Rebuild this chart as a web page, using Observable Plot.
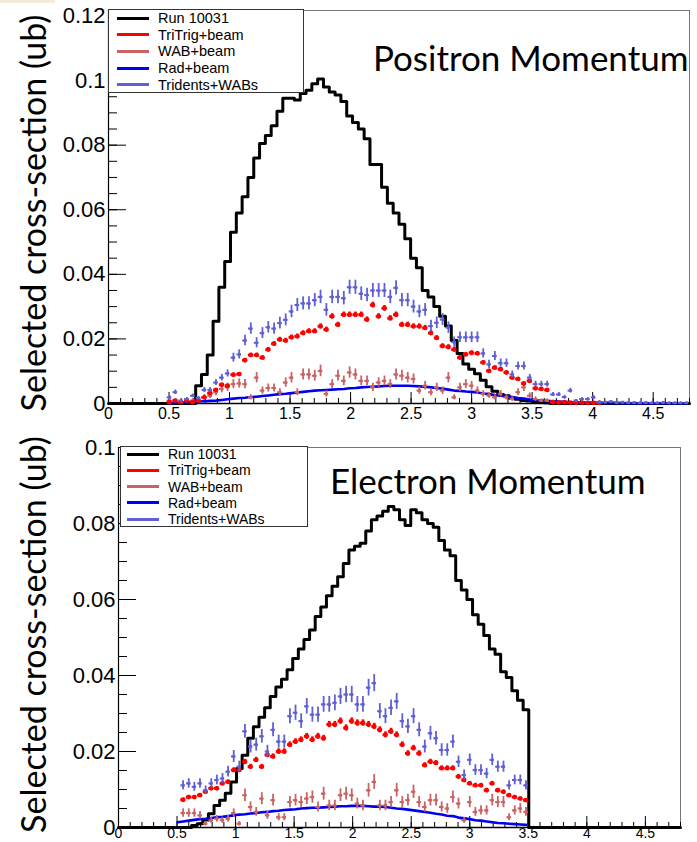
<!DOCTYPE html>
<html>
<head>
<meta charset="utf-8">
<script src="https://cdn.jsdelivr.net/npm/d3@7"></script>
<script src="https://cdn.jsdelivr.net/npm/@observablehq/plot@0.6"></script>
<style>
  html, body { margin: 0; padding: 0; background: #fff; }
  body { position: relative; width: 697px; height: 842px; overflow: hidden; font-family: "Liberation Sans", Arial, sans-serif; }
  .panel { position: absolute; left: 0; width: 697px; }
  .panel svg { overflow: visible; }
  .legend { position: absolute; background: #fff; border: 1px solid #333; box-sizing: border-box; color: #000; }
  .legend .row { position: absolute; display: flex; align-items: center; white-space: nowrap; height: 16px; margin-top: -8px; }
  .legend .sw { height: 3px; }
  #corner { position: absolute; left: 0; top: 0; width: 55px; height: 3px; background: #f3eadb; }
</style>
</head>
<body>
<div id="corner"></div>
<div id="top" class="panel" style="top:0px"></div>
<div id="bottom" class="panel" style="top:420px"></div>
<script>
// ---------------- data ----------------
const BIN_WIDTH = 0.048;          // 100 bins from 0 to 4.8
const X_MAX = 4.8;
const legendLabels = ["Run 10031", "TriTrig+beam", "WAB+beam", "Rad+beam", "Tridents+WABs"];
const panelTitles = ["Positron Momentum", "Electron Momentum"];
const yAxisTitle = "Selected cross-section (ub)";
const xTickValues = [0, 0.5, 1, 1.5, 2, 2.5, 3, 3.5, 4, 4.5];
const yTickValuesPos = [0, 0.02, 0.04, 0.06, 0.08, 0.1, 0.12];
const yTickValuesEle = [0, 0.02, 0.04, 0.06, 0.08, 0.1];

// Positron panel (values per bin, starting at the given bin index)
const posRunFirstBin = 15;
const posRun = [0.0055,0.009,0.015,0.0255,0.036,0.044,0.053,0.059,0.064,0.070,
  0.076,0.0805,0.083,0.086,0.0905,0.0945,0.0945,0.094,0.096,0.097,
  0.099,0.1005,0.098,0.0965,0.0955,0.0935,0.089,0.087,0.085,0.082,
  0.074,0.074,0.067,0.062,0.059,0.0555,0.051,0.045,0.042,0.035,
  0.033,0.030,0.027,0.024,0.0195,0.0155,0.0122,0.0106,0.0092,0.0072,
  0.0052,0.0038,0.0028,0.0024,0.0016,0.0013,0.0009,0.0008,0.0005,0.0004,
  0.0002];
const posTriFirstBin = 10;
const posTri = [0.0004,0.0009,0.0004,0.0009,0.0004,0.0009,0.0019,0.0032,0.0042,0.0058,
  0.0055,0.0089,0.0091,0.0134,0.015,0.015,0.0142,0.0167,0.0185,0.0198,
  0.0195,0.0205,0.0208,0.0218,0.0224,0.0224,0.0239,0.0229,0.027,0.0244,
  0.0275,0.0275,0.0275,0.0275,0.026,0.0305,0.027,0.0295,0.0264,0.0275,
  0.0244,0.0244,0.0239,0.0239,0.0234,0.0218,0.0203,0.0178,0.0175,0.0167,
  0.0142,0.0152,0.0157,0.0155,0.0127,0.0101,0.0111,0.0106,0.0096,0.008,
  0.0076,0.0062,0.007,0.0047,0.0045,0.0042,0.0004,0.0003,0.0004,0.0003,
  0.0002,0.0003,0.0002,0.0002,0.0002];
const posWabFirstBin = 10;
const posWab = [0.0009,0.0009,0.0004,0.0009,0.0009,0.0009,0.002,0.0024,0.0035,0.0045,
  0.005,0.006,0.0062,0.006,0.0019,0.008,0.004,0.0048,0.0048,0.0035,
  0.0065,0.008,0.0035,0.009,0.009,0.0086,0.0101,0.003,0.006,0.0086,
  0.007,0.0096,0.009,0.007,0.007,0.005,0.0065,0.007,0.006,0.009,
  0.0086,0.008,0.0076,0.004,0.0055,0.0035,0.005,0.004,0.008,0.0019,
  0.005,0.006,0.0055,0.004,0.003,0.0025,0.0019,0.003,0.0019,0.0014,
  0.0035,0.005,0.0024,0.0014,0.0009,0.0009,0.0006,0.0004,0.0005,0.0003,
  0.0004,0.0003,0.0002,0.0003,0.0002];
const posRadFirstBin = 10;
const posRad = [0.0001,0.0002,0.0003,0.0004,0.0005,0.0006,0.0007,0.0008,0.0009,0.0011,
  0.0013,0.0015,0.0017,0.0018,0.002,0.0021,0.0023,0.0025,0.0027,0.0029,
  0.003,0.0032,0.0034,0.0036,0.0038,0.004,0.0041,0.0042,0.0043,0.0044,
  0.0045,0.0047,0.0048,0.005,0.0051,0.0052,0.0053,0.0054,0.0055,0.0055,
  0.0055,0.0055,0.0054,0.0053,0.0052,0.005,0.0048,0.0046,0.0043,0.004,
  0.0039,0.0037,0.0036,0.0034,0.0031,0.0029,0.0026,0.0024,0.0022,0.002,
  0.0017,0.0015,0.0012,0.001,0.0009,0.0008,0.0007,0.0006,0.0005,0.0004,
  0.0004,0.0003,0.0003,0.0003,0.0002,0.0002,0.0002,0.0002,0.0001,0.0001,
  0.0001,0.0001,0.0001,0.0001,0.0001,0.0001,0.0001,0.0001,0.0001,0.0001];
const posTwFirstBin = 10;
const posTw = [0.0019,0.0035,0.0009,0.0014,0.0024,0.0017,0.0042,0.0042,0.0065,0.008,
  0.0093,0.0142,0.0152,0.0195,0.0232,0.0188,0.0218,0.0236,0.0232,0.0249,
  0.0259,0.0285,0.0305,0.031,0.031,0.032,0.033,0.029,0.033,0.033,
  0.0326,0.036,0.036,0.034,0.0336,0.035,0.035,0.035,0.033,0.0358,
  0.032,0.032,0.030,0.0285,0.029,0.024,0.025,0.026,0.0235,0.019,
  0.0205,0.0205,0.0205,0.0205,0.0155,0.0121,0.0147,0.0125,0.0125,0.009,
  0.0116,0.0116,0.008,0.006,0.006,0.006,0.0028,0.0028,0.002,0.004,
  0.0009,0.0014,0.0014,0.0019,0.0005,0.0004,0.0006,0.0003,0.0004,0.0003,
  0.0003,0.0002,0.0003,0.0002,0.0002,0.0003,0.0002,0.0002,0.0002,0.0002];

// Electron panel
const eleRunFirstBin = 13;
const eleRun = [0.0005,0.001,0.002,0.0036,0.0058,0.0072,0.009,0.012,0.0155,0.019,
  0.0235,0.0265,0.029,0.0315,0.0345,0.037,0.039,0.0415,0.0445,0.047,
  0.0495,0.052,0.0555,0.058,0.061,0.0635,0.066,0.0695,0.073,0.074,
  0.0748,0.078,0.081,0.082,0.0832,0.0845,0.0836,0.081,0.0795,0.0836,
  0.0828,0.081,0.080,0.079,0.0755,0.073,0.0715,0.065,0.0625,0.060,
  0.056,0.0535,0.0505,0.047,0.0456,0.041,0.0395,0.036,0.0335,0.031];
const eleTriFirstBin = 11;
const eleTri = [0.0073,0.008,0.008,0.0085,0.0094,0.0103,0.0103,0.0116,0.012,0.0151,
  0.0151,0.0173,0.016,0.0178,0.016,0.0191,0.0187,0.020,0.020,0.0218,
  0.0226,0.0231,0.024,0.0231,0.024,0.0235,0.0271,0.0271,0.028,0.0262,
  0.028,0.0275,0.0275,0.0271,0.0266,0.0257,0.0244,0.0253,0.0244,0.0218,
  0.0195,0.0209,0.0195,0.0164,0.0173,0.017,0.0156,0.0156,0.0156,0.0134,
  0.0125,0.0116,0.0111,0.0111,0.0098,0.0116,0.0098,0.0094,0.0085,0.008,
  0.0076,0.0072];
const eleWabFirstBin = 11;
const eleWab = [0.0038,0.0038,0.0038,0.0032,0.001,0.0019,0.0023,0.0019,0.0023,0.0038,
  0.001,0.0085,0.0054,0.0041,0.0076,0.0032,0.0072,0.0027,0.0027,0.0067,
  0.0072,0.0067,0.0076,0.008,0.0054,0.0089,0.0058,0.0058,0.0085,0.0089,
  0.0085,0.0063,0.0058,0.0098,0.012,0.0058,0.0058,0.0067,0.0098,0.0067,
  0.0072,0.0094,0.0067,0.0054,0.0072,0.0072,0.0054,0.005,0.008,0.0063,
  0.0019,0.0067,0.0041,0.0045,0.0045,0.0072,0.0067,0.0067,0.0027,0.0045,
  0.005,0.0041];
const eleRadFirstBin = 10;
const eleRad = [0.0014,0.0016,0.0018,0.002,0.0022,0.0023,0.0025,0.0027,0.0028,0.003,
  0.0032,0.0034,0.0035,0.0037,0.0038,0.004,0.0041,0.0043,0.0044,0.0046,
  0.0047,0.0048,0.005,0.0051,0.0052,0.0052,0.0053,0.0054,0.0055,0.0056,
  0.0056,0.0057,0.0057,0.0057,0.0056,0.0055,0.0055,0.0054,0.0052,0.005,
  0.0049,0.0047,0.0045,0.0043,0.0041,0.0039,0.0036,0.0034,0.0031,0.003,
  0.0026,0.0024,0.0022,0.0019,0.0018,0.0016,0.0014,0.0012,0.0011,0.001,
  0.0009,0.0008,0.0007];
const eleTwFirstBin = 11;
const eleTw = [0.0111,0.0116,0.0107,0.0116,0.0098,0.0116,0.0125,0.0129,0.0147,0.0187,
  0.016,0.0253,0.0213,0.0218,0.024,0.020,0.0257,0.0226,0.0226,0.0293,
  0.0302,0.028,0.0319,0.0297,0.0297,0.0324,0.0324,0.0328,0.0345,0.035,
  0.035,0.0324,0.0324,0.0368,0.038,0.0306,0.0293,0.0315,0.0332,0.028,
  0.0266,0.0293,0.0257,0.0213,0.0248,0.0235,0.0204,0.0204,0.0226,0.0173,
  0.0138,0.0178,0.0151,0.0151,0.0142,0.0178,0.016,0.016,0.0111,0.0125,
  0.0125,0.0111];

// statistical error scale per series (error = scale * sqrt(value))
const errScaleTri = 0.005;
const errScaleWab = 0.018;
const errScaleTw = 0.0115;

// ---------------- styling ----------------
const COLORS = { run: "#000000", tri: "#ff0000", wab: "#c86464", rad: "#0000f0", tw: "#6060d4" };
const legendColors = [COLORS.run, COLORS.tri, COLORS.wab, COLORS.rad, COLORS.tw];
const TICK_FONT = "'Liberation Sans', Arial, Helvetica, sans-serif";
const TITLE_FONT = "Lato, 'Open Sans', sans-serif";

function binPoints(first, vals, errScale) {
  return vals.map((v, k) => {
    const i = first + k;
    return { x: (i + 0.5) * BIN_WIDTH, x1: i * BIN_WIDTH, x2: (i + 1) * BIN_WIDTH, y: v,
             e: errScale ? errScale * Math.sqrt(v) : 0 };
  });
}
function histPoints(first, vals) {
  const nb = Math.round(X_MAX / BIN_WIDTH);
  const pts = [];
  for (let i = 0; i < nb; i++) {
    const k = i - first;
    pts.push({ x: i * BIN_WIDTH, y: (k >= 0 && k < vals.length) ? vals[k] : 0 });
  }
  pts.push({ x: X_MAX, y: 0 });
  return pts;
}
function errMarks(pts, color, r, hw, vw, inset) {
  return [
    Plot.ruleX(pts, { x: "x", y1: d => d.y - d.e, y2: d => d.y + d.e, stroke: color, strokeWidth: vw }),
    Plot.ruleY(pts, { y: "y", x1: "x1", x2: "x2", insetLeft: inset, insetRight: inset, stroke: color, strokeWidth: hw }),
    Plot.dot(pts, { x: "x", y: "y", r, fill: color, stroke: null })
  ];
}
const fmt = d => String(+(+d).toFixed(3));

function panel(cfg) {
  const run = histPoints(cfg.runFirst, cfg.run);
  const tri = binPoints(cfg.triFirst, cfg.tri, errScaleTri);
  const wab = binPoints(cfg.wabFirst, cfg.wab, errScaleWab);
  const rad = binPoints(cfg.radFirst, cfg.rad, 0);
  const tw = binPoints(cfg.twFirst, cfg.tw, errScaleTw);
  const ymax = cfg.ymax;
  const yMinor = d3.range(0, ymax + 1e-9, 0.005);
  const xMinor = d3.range(0, X_MAX + 1e-9, 0.1);
  return Plot.plot({
    width: 697, height: cfg.height,
    marginLeft: cfg.ml, marginRight: cfg.mr, marginTop: cfg.mt, marginBottom: cfg.mb,
    x: { domain: [0, X_MAX] },
    y: { domain: [0, ymax] },
    style: { fontFamily: TICK_FONT, background: "transparent", color: "#000", overflow: "visible" },
    marks: [
      Plot.frame({ stroke: "#777", strokeWidth: 1 }),
      Plot.ruleX([0], { stroke: "#000", strokeWidth: 1.2 }),
      Plot.axisY(yMinor, { tickSize: -9, tickFormat: () => "", label: null, strokeWidth: 1 }),
      Plot.axisY(cfg.yTicks, { tickSize: -18, tickFormat: () => "", label: null, strokeWidth: 1 }),
      Plot.axisY(cfg.yTicks, { tickSize: 0, tickPadding: 3, tickFormat: fmt, label: null, fontSize: 22 }),
      Plot.axisX(xMinor, { tickSize: -5, tickFormat: () => "", label: null }),
      Plot.axisX(xTickValues, { tickSize: -11, tickFormat: () => "", label: null }),
      Plot.axisX(xTickValues, { tickSize: 0, tickPadding: cfg.xPad, tickFormat: fmt, label: null, fontSize: cfg.xFont }),
      Plot.line(run, { x: "x", y: "y", curve: "step-after", stroke: COLORS.run, strokeWidth: 3 }),
      Plot.ruleY([0], { stroke: "#000", strokeWidth: 1.5 }),
      Plot.line(rad, { x: "x", y: "y", stroke: COLORS.rad, strokeWidth: 2.6 }),
      ...errMarks(wab, COLORS.wab, 1.6, 2, 1.8, 0.6),
      ...errMarks(tri, COLORS.tri, 2.4, 2.8, 2.6, 0.4),
      ...errMarks(tw, COLORS.tw, 1.6, 2, 1.8, 0.6),
      Plot.text([cfg.title], { frameAnchor: "top-right", textAnchor: "end", lineAnchor: "bottom",
        dx: cfg.titleDx, dy: cfg.titleDy, fontSize: 35, fontFamily: TITLE_FONT, fill: "#000" }),
      Plot.text([yAxisTitle], { frameAnchor: "left", rotate: -90, textAnchor: "middle", lineAnchor: "middle",
        dx: cfg.ytDx, dy: cfg.ytDy, fontSize: 34, fontFamily: TITLE_FONT, fill: "#000" })
    ]
  });
}

function legend(container, box) {
  const div = document.createElement("div");
  div.className = "legend";
  Object.assign(div.style, { left: box.left + "px", top: box.top + "px", width: box.width + "px", height: box.height + "px", fontSize: box.fontSize + "px" });
  legendLabels.forEach((lab, k) => {
    const row = document.createElement("div");
    row.className = "row";
    row.style.left = box.swLeft + "px";
    row.style.top = (box.row0 + k * box.rowStep) + "px";
    const sw = document.createElement("div");
    sw.className = "sw";
    sw.style.width = "32px";
    sw.style.marginRight = (box.textLeft - box.swLeft - 32) + "px";
    sw.style.background = legendColors[k];
    const tx = document.createElement("span");
    tx.textContent = lab;
    row.appendChild(sw); row.appendChild(tx);
    div.appendChild(row);
  });
  container.appendChild(div);
}

const topEl = document.getElementById("top");
topEl.appendChild(panel({
  height: 420, ml: 108, mr: 8, mt: 10, mb: 17, ymax: 0.1217, yTicks: yTickValuesPos,
  runFirst: posRunFirstBin, run: posRun, triFirst: posTriFirstBin, tri: posTri,
  wabFirst: posWabFirstBin, wab: posWab, radFirst: posRadFirstBin, rad: posRad,
  twFirst: posTwFirstBin, tw: posTw, xPad: 4, xFont: 16,
  title: panelTitles[0], titleDx: -1, titleDy: 60, ytDx: -73, ytDy: 6
}));
legend(document.body, { left: 108, top: 9, width: 196, height: 84, fontSize: 14.5,
  swLeft: 8, textLeft: 49, row0: 8, rowStep: 16.7 });

const botEl = document.getElementById("bottom");
botEl.appendChild(panel({
  height: 422, ml: 118, mr: 17, mt: 27, mb: 15, ymax: 0.1, yTicks: yTickValuesEle,
  runFirst: eleRunFirstBin, run: eleRun, triFirst: eleTriFirstBin, tri: eleTri,
  wabFirst: eleWabFirstBin, wab: eleWab, radFirst: eleRadFirstBin, rad: eleRad,
  twFirst: eleTwFirstBin, tw: eleTw, xPad: 1, xFont: 14,
  title: panelTitles[1], titleDx: -35, titleDy: 46, ytDx: -83, ytDy: -3
}));
legend(document.body, { left: 120, top: 446, width: 188, height: 81, fontSize: 14,
  swLeft: 6, textLeft: 47, row0: 7, rowStep: 16.3 });
</script>
</body>
</html>
